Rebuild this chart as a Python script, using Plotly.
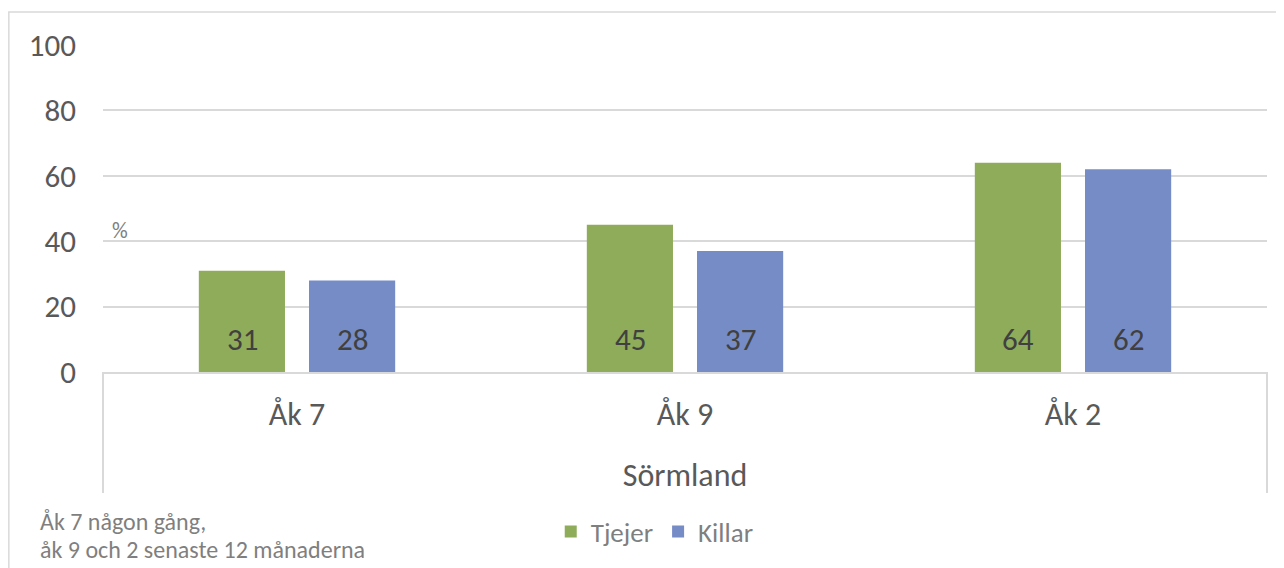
import plotly.graph_objects as go

categories = ["Åk 7", "Åk 9", "Åk 2"]
group_label = "Sörmland"
series_names = ["Tjejer", "Killar"]
tjejer = [31, 45, 64]
killar = [28, 37, 62]
y_ticks = [0, 20, 40, 60, 80, 100]
footnote_lines = ["Åk 7 någon gång,", "åk 9 och 2 senaste 12 månaderna"]

colors = ["#8FAC5B", "#768CC7"]
FONT = "Carlito, Calibri, Lato, sans-serif"

fig = go.Figure()
for name, vals, col in zip(series_names, [tjejer, killar], colors):
    fig.add_trace(go.Bar(name=name, x=categories, y=vals, marker=dict(color=col, line=dict(width=0))))

# data labels at inside base
for i, cat in enumerate(categories):
    for j, vals in enumerate([tjejer, killar]):
        fig.add_annotation(x=cat, y=0, text=str(vals[i]), showarrow=False,
                           xref="x", yref="y", yanchor="bottom", yshift=12,
                           xshift=(-55 if j == 0 else 55),
                           font=dict(family=FONT, size=31, color="#404040"))

fig.add_annotation(x=0.0146, y=0.434, xref="paper", yref="paper", text="%", showarrow=False,
                   xanchor="center", yanchor="middle", font=dict(family=FONT, size=22, color="#7F7F7F"))
for line, ypos in zip(footnote_lines, [-0.4557, -0.5413]):
    fig.add_annotation(x=-0.0558, y=ypos, xref="paper", yref="paper", text=line, showarrow=False,
                       xanchor="left", yanchor="middle", align="left",
                       font=dict(family=FONT, size=24, color="#7F7F7F"))

# divider lines of the category axis
for xd in [0, 1]:
    fig.add_shape(type="line", xref="x domain", yref="paper", x0=xd, x1=xd, y0=0, y1=-0.37,
                  line=dict(color="#D9D9D9", width=2))
# outer chart border
fig.add_shape(type="rect", xref="paper", yref="paper", x0=-0.0809, x1=1.05, y0=1.101, y1=-0.7,
              line=dict(color="#D9D9D9", width=1.5), layer="below")

fig.update_layout(
    width=1284, height=568,
    margin=dict(l=95, r=25, t=37, b=204),
    paper_bgcolor="white", plot_bgcolor="white",
    barmode="group", bargap=0.432, bargroupgap=0.218,
    font=dict(family=FONT, color="#595959"),
    showlegend=True,
    legend=dict(orientation="h", x=0.474, y=-0.489, xanchor="center", yanchor="middle",
                font=dict(family=FONT, size=27, color="#7F7F7F"), itemwidth=30,
                tracegroupgap=0),
    xaxis=dict(type="category", showgrid=False, showline=True, linecolor="#D9D9D9", linewidth=2,
               ticks="", tickfont=dict(family=FONT, size=32, color="#595959"), ticklabelstandoff=13,
               title=dict(text=group_label, font=dict(family=FONT, size=32, color="#595959"), standoff=30)),
    yaxis=dict(range=[0, 100], tickvals=y_ticks, showgrid=True, gridcolor="#D9D9D9", gridwidth=1.5,
               zeroline=False, showline=False, ticks="", ticklabelstandoff=26,
               tickfont=dict(family=FONT, size=31, color="#595959")),
)

fig.write_html("out.html")
